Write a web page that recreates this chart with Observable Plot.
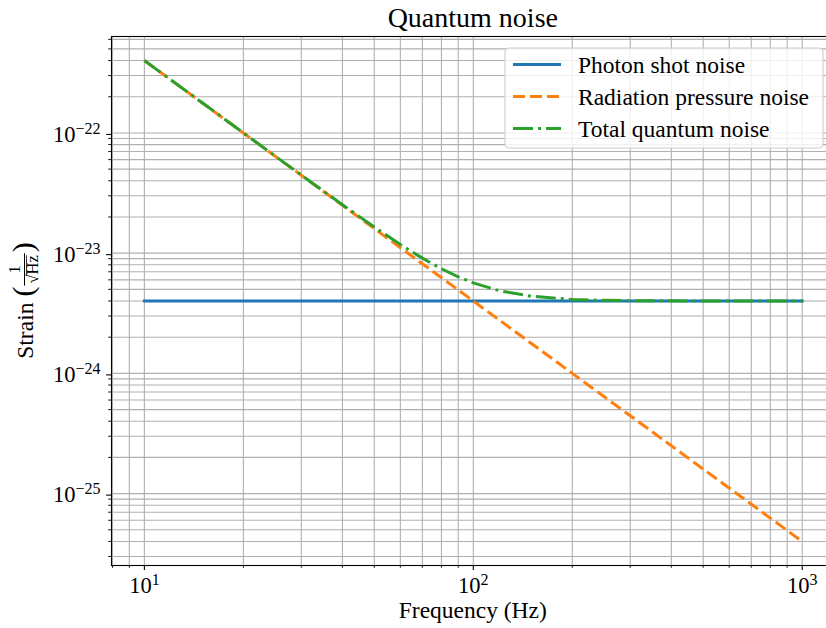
<!DOCTYPE html>
<html><head><meta charset="utf-8">
<script src="https://cdn.jsdelivr.net/npm/d3@7"></script>
<script src="https://cdn.jsdelivr.net/npm/@observablehq/plot@0.6"></script>
<style>
html,body{margin:0;padding:0;background:#fff;overflow:hidden;width:826px;height:628px}
#chart svg{max-width:none !important;display:block}
</style>
</head><body><div id="chart"></div>
<script>
const FONT = "'Liberation Serif', 'DejaVu Serif', serif";

// Data
const shotFreq = [10, 1000];
const shotStrain = [4e-24, 4e-24];
const radFreq = [10, 20, 50, 100, 200, 500, 1000];
const radStrain = [4e-22, 1e-22, 1.6e-23, 4e-24, 1e-24, 1.6e-25, 4e-26];
const totalFreq = [10, 15, 20, 30, 40, 50, 60, 70, 80, 90, 100, 120, 150, 200, 250, 300, 400, 500, 700, 1000];
const totalStrain = [4.0e-22, 1.78e-22, 1.0e-22, 4.46e-23, 2.53e-23, 1.65e-23, 1.18e-23, 9.09e-24, 7.42e-24, 6.36e-24,
                     5.66e-24, 4.87e-24, 4.38e-24, 4.12e-24, 4.05e-24, 4.02e-24, 4.01e-24, 4.0e-24, 4.0e-24, 4.0e-24];

const seriesNames = ["Photon shot noise", "Radiation pressure noise", "Total quantum noise"];
const seriesColors = ["#1f77b4", "#ff7f0e", "#2ca02c"];
const seriesDash = [null, "12,5", "20,5,3,5"];

const xMajorTicks = [10, 100, 1000];
const yMajorTicks = [1e-25, 1e-24, 1e-23, 1e-22];

const titleText = "Quantum noise";
const xLabelText = "Frequency (Hz)";

// tables
const shot = shotFreq.map((f, i) => ({f, s: shotStrain[i]}));
const rad = radFreq.map((f, i) => ({f, s: radStrain[i]}));
const total = totalFreq.map((f, i) => ({f, s: totalStrain[i]}));

function logDomain(vals) {
  const e = d3.extent(vals.map(Math.log10));
  const pad = 0.05 * (e[1] - e[0]);
  return [10 ** (e[0] - pad), 10 ** (e[1] + pad)];
}
const xDomain = logDomain([...shotFreq, ...radFreq, ...totalFreq]);
const yDomain = logDomain([...shotStrain, ...radStrain, ...totalStrain]);

function minorTicks(dom) {
  const out = [];
  for (let e = Math.floor(Math.log10(dom[0])); e <= Math.ceil(Math.log10(dom[1])); e++) {
    for (let m = 2; m <= 9; m++) {
      const v = m * 10 ** e;
      if (v >= dom[0] && v <= dom[1]) out.push(v);
    }
  }
  return out;
}
const xMinor = minorTicks(xDomain);
const yMinor = minorTicks(yDomain);

const W = 840, H = 628;
const gridStyle = {stroke: "#b0b0b0", strokeOpacity: 1, strokeWidth: 1.1};
const fmt = d => "10^" + Math.round(Math.log10(d));

const chart = Plot.plot({
  width: W, height: H,
  marginLeft: 111, marginRight: W - 834.6, marginTop: 36, marginBottom: 63,
  x: {type: "log", domain: xDomain, label: null},
  y: {type: "log", domain: yDomain, label: null},
  style: {fontFamily: FONT, fontSize: "22.5px", color: "black", background: "white"},
  marks: [
    Plot.gridX([...xMinor, ...xMajorTicks], gridStyle),
    Plot.gridY([...yMinor, ...yMajorTicks], gridStyle),
    Plot.line(shot, {x: "f", y: "s", stroke: seriesColors[0], strokeWidth: 3, strokeLinecap: "square"}),
    Plot.line(rad, {x: "f", y: "s", stroke: seriesColors[1], strokeWidth: 3, strokeDasharray: seriesDash[1], strokeLinecap: "butt"}),
    Plot.line(total, {x: "f", y: "s", stroke: seriesColors[2], strokeWidth: 3, strokeDasharray: seriesDash[2], strokeLinecap: "butt"}),
    Plot.frame({stroke: "black", strokeWidth: 1.1}),
    Plot.axisX(xMinor, {tickSize: 2.8, tickFormat: () => "", label: null, strokeWidth: 0.9}),
    Plot.axisX(xMajorTicks, {tickSize: 4.9, tickPadding: 6.5, tickFormat: fmt, label: null, strokeWidth: 1.1}),
    Plot.axisY(yMinor, {tickSize: 2.8, tickFormat: () => "", label: null, strokeWidth: 0.9}),
    Plot.axisY(yMajorTicks, {tickSize: 4.9, tickPadding: 6, tickFormat: fmt, label: null, strokeWidth: 1.1, dy: 1.5})
  ]
});
document.getElementById("chart").appendChild(chart);
chart.style.maxWidth = "none";

// superscript exponents
chart.querySelectorAll("text").forEach(t => {
  const m = t.textContent.match(/^10\^(-?\d+)$/);
  if (!m) return;
  t.textContent = "";
  const ns = "http://www.w3.org/2000/svg";
  const a = document.createElementNS(ns, "tspan");
  a.textContent = "10";
  const b = document.createElementNS(ns, "tspan");
  b.textContent = m[1].replace("-", "\u2212");
  b.setAttribute("dy", "-8");
  b.setAttribute("font-size", "16");
  t.appendChild(a); t.appendChild(b);
});

const svg = d3.select(chart);
const xs = chart.scale("x"), ys = chart.scale("y");
const cx = (xs.range[0] + xs.range[1]) / 2;
const cy = (ys.range[0] + ys.range[1]) / 2;

// title
svg.append("text").attr("x", cx).attr("y", 27).attr("text-anchor", "middle")
  .attr("font-family", FONT).attr("font-size", 28).attr("fill", "black").text(titleText);
// x label
svg.append("text").attr("x", cx).attr("y", 618).attr("text-anchor", "middle")
  .attr("font-family", FONT).attr("font-size", 23.5).attr("fill", "black").text(xLabelText);

// y label with fraction
const yl = svg.append("g").attr("transform", `translate(33,${cy}) rotate(-90)`)
  .attr("font-family", FONT).attr("fill", "black").attr("text-anchor", "start");
const inner = yl.append("g");
const tS = inner.append("text").attr("font-size", 23.5).attr("x", 0).attr("y", 0).text("Strain");
let pos = tS.node().getComputedTextLength() + 6;
const pOpen = inner.append("text").attr("font-size", 30).attr("x", pos).attr("y", 0).text("(");
pos += pOpen.node().getComputedTextLength() + 1;
const num = inner.append("text").attr("font-size", 17).attr("text-anchor", "middle").attr("y", -13).text("1");
const rt = inner.append("text").attr("font-size", 16.5).attr("y", 5).text("\u221A");
const hz = inner.append("text").attr("font-size", 16.5).attr("y", 5).text("Hz");
const rtW = rt.node().getComputedTextLength();
const hzW = hz.node().getComputedTextLength();
const fw = rtW + hzW + 4;
rt.attr("x", pos + 2);
hz.attr("x", pos + 2 + rtW);
num.attr("x", pos + fw / 2);
inner.append("line").attr("x1", pos).attr("x2", pos + fw).attr("y1", -8.5).attr("y2", -8.5)
  .attr("stroke", "black").attr("stroke-width", 1);
inner.append("line").attr("x1", pos + 2 + rtW - 1).attr("x2", pos + 2 + rtW + hzW).attr("y1", -6.5).attr("y2", -6.5)
  .attr("stroke", "black").attr("stroke-width", 0.8);
pos += fw + 1;
const pClose = inner.append("text").attr("font-size", 30).attr("x", pos).attr("y", 0).text(")");
pos += pClose.node().getComputedTextLength();
inner.attr("transform", `translate(${-pos / 2},0)`);

// legend
const lg = svg.append("g").attr("font-family", FONT).attr("text-anchor", "start");
lg.append("rect").attr("x", 505).attr("y", 48).attr("width", 318).attr("height", 100).attr("rx", 4)
  .attr("fill", "white").attr("fill-opacity", 0.8).attr("stroke", "#cccccc").attr("stroke-width", 1.1);
const rowY = [64.5, 96.5, 128.5];
seriesNames.forEach((name, i) => {
  const l = lg.append("line").attr("x1", 513).attr("x2", 561).attr("y1", rowY[i]).attr("y2", rowY[i])
    .attr("stroke", seriesColors[i]).attr("stroke-width", 3);
  if (seriesDash[i]) l.attr("stroke-dasharray", seriesDash[i]);
  lg.append("text").attr("x", 578).attr("y", rowY[i]).attr("dy", "0.36em").attr("font-size", 23.5)
    .attr("fill", "black").text(name);
});
</script>
</body></html>
